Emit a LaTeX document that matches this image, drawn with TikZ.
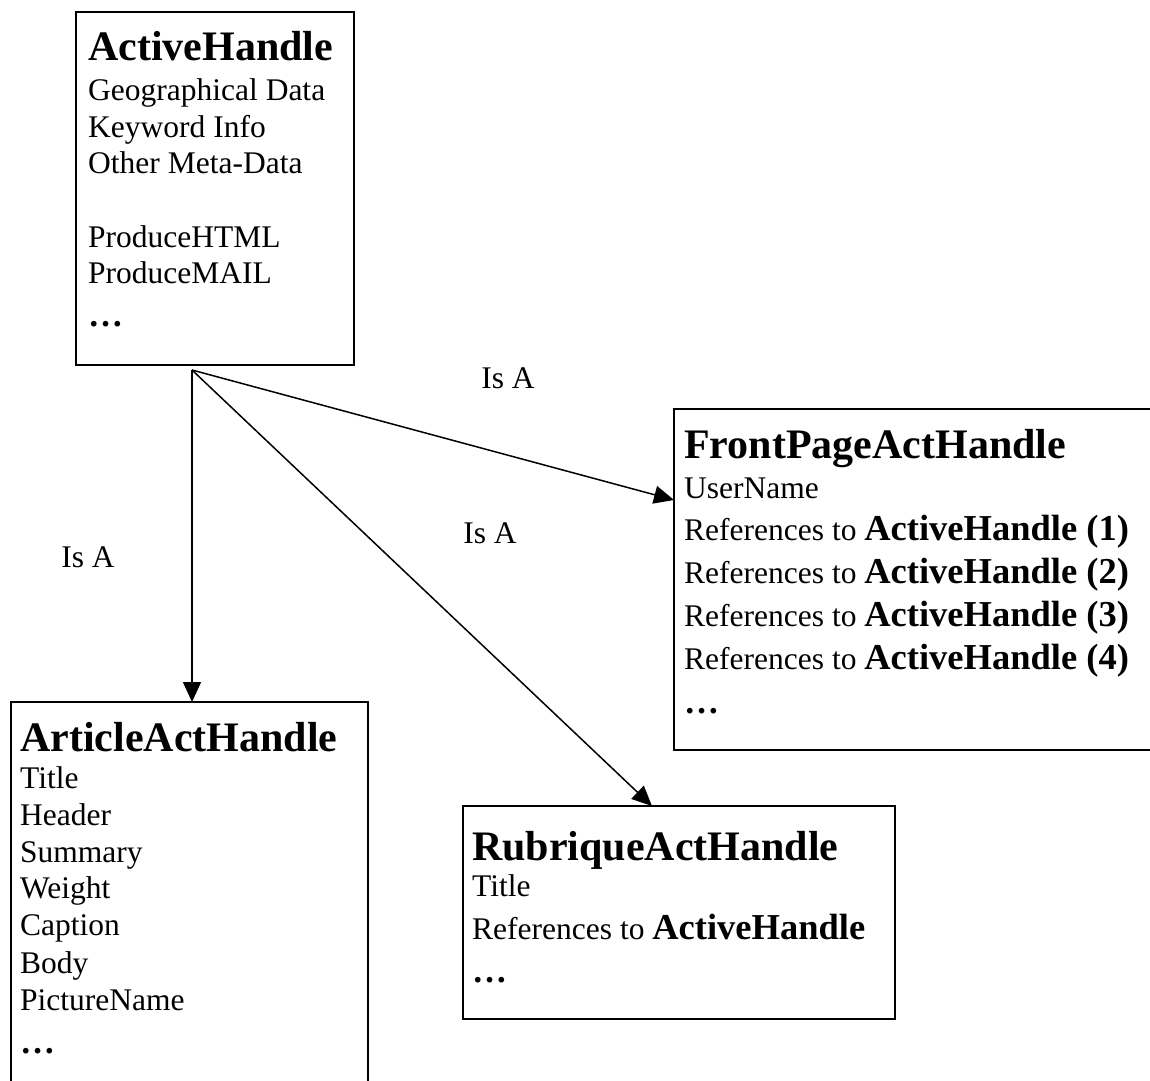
\documentclass[tikz,border=0pt]{standalone}
\usepackage{fontspec}
\setmainfont{Liberation Serif}
\usetikzlibrary{arrows.meta}
\newcommand\bigb[1]{{\bfseries\fontsize{36.5}{42}\selectfont #1}}
\tikzset{
  box/.style={draw, line width=1.6pt, inner sep=0pt, outer sep=0pt, anchor=north west},
  txt/.style={anchor=base west, inner sep=0pt, font=\fontsize{31.5}{37}\selectfont},
  dots/.style={anchor=base west, inner sep=0pt, font=\bfseries\fontsize{35}{40}\selectfont},
  ttl/.style={anchor=base west, inner sep=0pt, font=\bfseries\fontsize{42}{48}\selectfont},
  lbl/.style={inner sep=0pt, font=\fontsize{31.5}{37}\selectfont},
  arr/.style={line width=1.5pt, -{Triangle[length=20pt,width=18pt]}},
}
\begin{document}
\begin{tikzpicture}[x=1pt,y=1pt]
\useasboundingbox (0,0) rectangle (1150,-1080);
\clip (0,0) rectangle (1150,-1080);
% boxes
\node[box, minimum width=278pt, minimum height=353pt] (ah) at (76,-12) {};
\node[box, minimum width=520pt, minimum height=341pt] (fp) at (674,-409) {};
\node[box, minimum width=357pt, minimum height=420pt] (art) at (11,-702) {};
\node[box, minimum width=432pt, minimum height=213pt] (rub) at (463,-806) {};
% ActiveHandle text
\node[ttl] (ah0) at (88,-60) {ActiveHandle};
\node[txt] (ah1) at (88,-100) {Geographical Data};
\node[txt] (ah2) at (88,-137) {Keyword Info};
\node[txt] (ah3) at (88,-173) {Other Meta-Data};
\node[txt] (ah4) at (88,-247) {ProduceHTML};
\node[txt] (ah5) at (88,-283) {ProduceMAIL};
\node[dots] (ah6) at (88,-326) {…};
% FrontPage text
\node[ttl] (fp0) at (684,-458) {FrontPageActHandle};
\node[txt] (fp1) at (684,-498) {UserName};
\node[txt] (fp2) at (684,-540) {References to \bigb{ActiveHandle (1)}};
\node[txt] (fp3) at (684,-583) {References to \bigb{ActiveHandle (2)}};
\node[txt] (fp4) at (684,-626) {References to \bigb{ActiveHandle (3)}};
\node[txt] (fp5) at (684,-669) {References to \bigb{ActiveHandle (4)}};
\node[dots] (fp6) at (684,-713) {…};
% Article text
\node[ttl] (ar0) at (20,-751) {ArticleActHandle};
\node[txt] (ar1) at (20,-788) {Title};
\node[txt] (ar2) at (20,-825) {Header};
\node[txt] (ar3) at (20,-862) {Summary};
\node[txt] (ar4) at (20,-898) {Weight};
\node[txt] (ar5) at (20,-935) {Caption};
\node[txt] (ar6) at (20,-973) {Body};
\node[txt] (ar7) at (20,-1010) {PictureName};
\node[dots] (ar8) at (20,-1053) {…};
% Rubrique text
\node[ttl] (rb0) at (472,-860) {RubriqueActHandle};
\node[txt] (rb1) at (472,-896) {Title};
\node[txt] (rb2) at (472,-939) {References to \bigb{ActiveHandle}};
\node[dots] (rb3) at (472,-982) {…};
% connectors
\coordinate (src) at ([xshift=116pt,yshift=-5pt]ah.south west);
\coordinate (fpin) at ([yshift=-91pt]fp.north west);
\coordinate (rbin) at ([xshift=189pt]rub.north west);
\draw[arr] (src) -- (src |- art.north);
\draw[arr] (src) -- (fpin);
\draw[arr] (src) -- (rbin);
% labels
\node[lbl] (l1) at (508,-378) {Is A};
\node[lbl] (l2) at (490,-533) {Is A};
\node[lbl] (l3) at (88,-557) {Is A};
\end{tikzpicture}
\end{document}
